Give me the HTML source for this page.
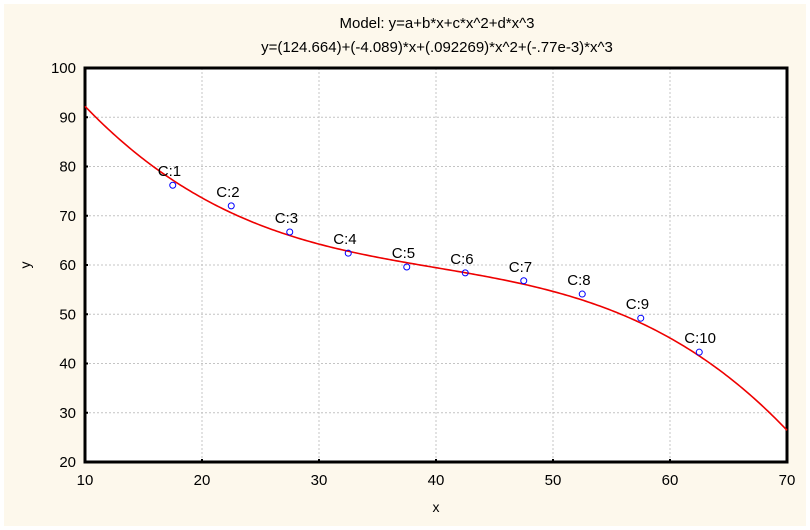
<!DOCTYPE html>
<html><head><meta charset="utf-8"><style>
html,body{margin:0;padding:0;background:#fff;}
svg{display:block;font-family:"Liberation Sans",Arial,sans-serif;}
</style></head><body>
<svg id="chart" width="810" height="530">
<rect x="4" y="4" width="802" height="522" fill="#fdf8ec"/>
<rect x="85" y="68" width="702" height="394" fill="#fff"/>
<text x="437" y="28" text-anchor="middle" font-size="15">Model: y=a+b*x+c*x^2+d*x^3</text>
<text x="437" y="52" text-anchor="middle" font-size="15">y=(124.664)+(-4.089)*x+(.092269)*x^2+(-.77e-3)*x^3</text>
<g id="grid"></g><g id="axes"></g><g id="marks"></g>
<text x="436" y="512" text-anchor="middle" font-size="14">x</text>
<text x="30" y="265" text-anchor="middle" font-size="14" transform="rotate(-90 30 265)">y</text>
</svg>
<script>
const xVals=[17.5,22.5,27.5,32.5,37.5,42.5,47.5,52.5,57.5,62.5];
const yVals=[76.2,72.0,66.7,62.4,59.6,58.4,56.8,54.1,49.2,42.3];
const caseLabels=["C:1","C:2","C:3","C:4","C:5","C:6","C:7","C:8","C:9","C:10"];
const coeffs=[124.664,-4.089,0.092269,-0.00077];
const xTicks=[10,20,30,40,50,60,70];
const yTicks=[20,30,40,50,60,70,80,90,100];
const NS="http://www.w3.org/2000/svg";
const L=85,R=787,T=68,B=462;
const sx=v=>L+(v-10)/60*(R-L);
const sy=v=>B-(v-20)/80*(B-T);
function mk(tag,attrs,parent){const e=document.createElementNS(NS,tag);for(const k in attrs)e.setAttribute(k,attrs[k]);document.getElementById(parent).appendChild(e);return e;}
xTicks.forEach(t=>{
 const x=sx(t);
 if(t>10&&t<70){const g=mk('line',{x1:x,x2:x,y1:T,y2:B,stroke:'#c4c4c4','stroke-dasharray':'2,2'},'grid');
 
 }
 const tk=mk('line',{x1:x,x2:x,y1:B,y2:B-3,stroke:'#000','stroke-width':2},'axes');
 
 
 const lb=mk('text',{x:x,y:B+23,'text-anchor':'middle','font-size':15},'axes');lb.textContent=t;
 
 
});
yTicks.forEach(t=>{
 const y=sy(t);
 if(t>20&&t<100){const g=mk('line',{x1:L,x2:R,y1:y,y2:y,stroke:'#c4c4c4','stroke-dasharray':'2,2'},'grid');
 
 }
 const tk=mk('line',{x1:L,x2:L+3,y1:y,y2:y,stroke:'#000','stroke-width':2},'axes');
 
 
 const lb=mk('text',{x:L-9,y:y+5,'text-anchor':'end','font-size':15},'axes');lb.textContent=t;
 
 
});
const frame=mk('rect',{x:L,y:T,width:R-L,height:B-T,fill:'none',stroke:'#000','stroke-width':3},'axes');


let d='';
for(let i=0;i<=300;i++){const x=10+60*i/300;const y=coeffs[0]+coeffs[1]*x+coeffs[2]*x*x+coeffs[3]*x*x*x;d+=(i?'L':'M')+sx(x).toFixed(2)+','+sy(y).toFixed(2);}
const curve=mk('path',{d:d,fill:'none',stroke:'#e00',"stroke-width":1.6},'marks');


xVals.forEach((xv,i)=>{
 const c=mk('circle',{cx:sx(xv),cy:sy(yVals[i]),r:3,fill:'none',stroke:'#00f','stroke-width':1},'marks');
 
 
 const lb=mk('text',{x:sx(xv)-15,y:sy(yVals[i])-9,'font-size':15},'marks');lb.textContent=caseLabels[i];
 
 
});
</script>
</body></html>
